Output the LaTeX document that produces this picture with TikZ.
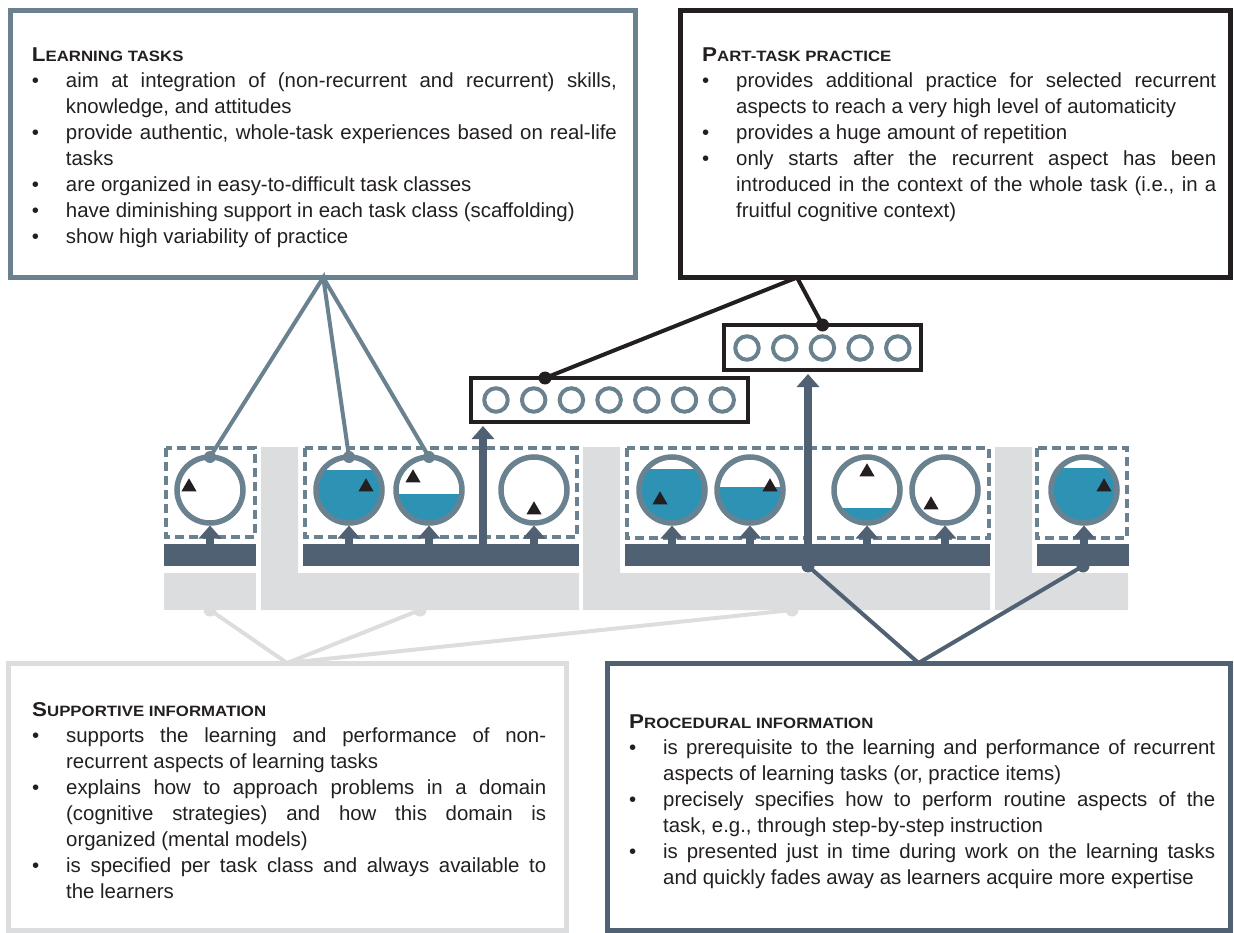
\documentclass[tikz,border=0pt]{standalone}
\usepackage{fontspec}
\setmainfont{Liberation Sans}
\newfontfamily\headfont[FakeStretch=1.12]{Liberation Sans}
\usepackage{tikz}
\usetikzlibrary{positioning, arrows.meta, shapes.geometric}

\definecolor{steel}{RGB}{106,130,144}
\definecolor{slate}{RGB}{79,97,115}
\definecolor{lake}{RGB}{45,146,180}
\definecolor{pale}{RGB}{220,221,223}
\definecolor{ink}{RGB}{35,31,32}

\newcommand{\boxtitle}[2]{\noindent{\headfont\bfseries\fontsize{20}{20}\selectfont #1\fontsize{15}{20}\selectfont #2}\par\vspace{0pt}}
\newcommand{\bitem}{\par\hangindent=34pt\hangafter=1\noindent\makebox[34pt][l]{\textbullet}}

\tikzset{
infobox/.style={draw=#1, line width=5pt, minimum height=267pt, inner sep=0pt, outer sep=0pt}, % the four text boxes
textblock/.style={anchor=north west, inner sep=0pt, align=justify, text=ink, font=\fontsize{20.4}{26}\selectfont, execute at begin node={\hyphenpenalty=10000}}, % bullet lists
tank/.style={circle, draw=steel, line width=5.5pt, minimum size=66pt, inner sep=0pt, outer sep=0pt, fill=white}, % one learning task
waterline/.style={path picture={\fill[lake] ([yshift=-#1pt]path picture bounding box.north west) rectangle (path picture bounding box.south east);}}, % amount of support
cue/.style={regular polygon, regular polygon sides=3, fill=ink, minimum size=17.5pt, inner sep=0pt},
drill/.style={circle, draw=steel, line width=4pt, minimum size=23.5pt, inner sep=0pt}, % practice item
itembox/.style={draw=ink, line width=4pt, inner sep=0pt, outer sep=0pt},
taskbar/.style={fill=slate, minimum height=22pt, inner sep=0pt, outer sep=0pt},
classbox/.style={draw=steel, line width=4.5pt, dash pattern=on 9pt off 5pt},
feed/.style={draw=slate, line width=8pt, -{Triangle[width=22pt,length=13pt]}},
tie/.style={draw=#1, line width=4pt},
}

\begin{document}
\begin{tikzpicture}[x=1pt, y=-1pt, node distance=37.7pt]
\useasboundingbox (0,0) rectangle (1234,933);

% light backing of the task classes
\fill[pale] (164,573) rectangle (256,610);
\fill[pale] (261,447) -- (298,447) -- (298,573) -- (579,573) -- (579,610) -- (261,610) -- cycle;
\fill[pale] (583,447) -- (620,447) -- (620,573) -- (990,573) -- (990,610) -- (583,610) -- cycle;
\fill[pale] (995,447) -- (1032,447) -- (1032,573) -- (1128,573) -- (1128,610) -- (995,610) -- cycle;

% the four boxes
\node[infobox=steel, minimum width=625pt] (ltbox) at (323.25,144) {};
\node[infobox=ink, minimum width=550pt] (ptbox) at (955,144) {};
\node[infobox=pale, minimum width=558pt] (sibox) at (287,796.5) {};
\node[infobox=slate, minimum width=623pt] (pibox) at (918.5,796.5) {};

\coordinate (si1) at (210,610);
\coordinate (si2) at (420,610);
\coordinate (si3) at (792,610);
\draw[tie=pale] (si1) -- (sibox.north) -- (si2) (sibox.north) -- (si3);
\foreach \p in {si1,si2,si3} \fill[pale] (\p) circle (6.5pt);

% bars with the task classes
\node[taskbar, minimum width=92pt] (bar1) at (210,555) {};
\node[taskbar, minimum width=276pt] (bar2) at (441,555) {};
\node[taskbar, minimum width=365pt] (bar3) at (807.5,555) {};
\node[taskbar, minimum width=92pt] (bar4) at (1083,555) {};

\draw[classbox] (166,448) rectangle (255,537);
\draw[classbox] (305,448) rectangle (577,537);
\draw[classbox] (627,448) rectangle (989,538);
\draw[classbox] (1037,448) rectangle (1127,538);

\node[tank] (task1) at (210,490) {};
\node[tank, waterline=13] (task2) at (349,490) {};
\node[tank, waterline=37] (task3) at (429,490) {};
\node[tank] (task4) at (534,490) {};
\node[tank, waterline=12] (task5) at (672,490) {};
\node[tank, waterline=30] (task6) at (750,490) {};
\node[tank, waterline=51] (task7) at (867,490) {};
\node[tank] (task8) at (945,490) {};
\node[tank, waterline=11] (task9) at (1084,490) {};

\node[cue] (cue1) at (189,487) {};
\node[cue] (cue2) at (366,487) {};
\node[cue] (cue3) at (413,478) {};
\node[cue] (cue4) at (534,510) {};
\node[cue] (cue5) at (660,500) {};
\node[cue] (cue6) at (770,487) {};
\node[cue] (cue7) at (867,472) {};
\node[cue] (cue8) at (931,505) {};
\node[cue] (cue9) at (1104,487) {};

\draw[feed, shorten >=2.5pt] (bar1.north -| task1) -- (task1);
\draw[feed, shorten >=2.5pt] (bar2.north -| task2) -- (task2);
\draw[feed, shorten >=2.5pt] (bar2.north -| task3) -- (task3);
\draw[feed, shorten >=2.5pt] (bar2.north -| task4) -- (task4);
\draw[feed, shorten >=2.5pt] (bar3.north -| task5) -- (task5);
\draw[feed, shorten >=2.5pt] (bar3.north -| task6) -- (task6);
\draw[feed, shorten >=2.5pt] (bar3.north -| task7) -- (task7);
\draw[feed, shorten >=2.5pt] (bar3.north -| task8) -- (task8);
\draw[feed, shorten >=2.5pt] (bar4.north -| task9) -- (task9);

% part-task practice items
\node[itembox, minimum width=277pt, minimum height=44pt] (seven) at (609.5,400) {};
\node[drill] (r1) at (496,400) {};
\node[drill, right of=r1] (r2) {};
\node[drill, right of=r2] (r3) {};
\node[drill, right of=r3] (r4) {};
\node[drill, right of=r4] (r5) {};
\node[drill, right of=r5] (r6) {};
\node[drill, right of=r6] (r7) {};

\node[itembox, minimum width=197pt, minimum height=45pt] (five) at (822.5,347.5) {};
\node[drill] (p1) at (747,348) {};
\node[drill, right of=p1] (p2) {};
\node[drill, right of=p2] (p3) {};
\node[drill, right of=p3] (p4) {};
\node[drill, right of=p4] (p5) {};

\coordinate (rise1) at (483,544);
\coordinate (rise2) at (808,566);
\draw[feed, shorten >=4pt] (rise1) -- (rise1 |- seven.south);
\draw[feed, shorten >=4pt] (rise2) -- (rise2 |- five.south);

% connectors
\draw[tie=steel] (task1.north) -- (ltbox.south) -- (task2.north) (ltbox.south) -- (task3.north);
\foreach \t in {task1,task2,task3} \fill[steel] (\t.north) circle (6pt);

\coordinate (ptfoot) at (797,277.5);
\coordinate (sevdot) at (545,378);
\draw[tie=ink] (sevdot) -- (ptfoot) -- (five.north);
\fill[ink] (sevdot) circle (6.5pt) (five.north) circle (6.5pt);

\draw[tie=slate] (rise2) -- (pibox.north) -- (bar4.south);
\fill[slate] (rise2) circle (6.5pt) (bar4.south) circle (6.5pt);

% texts
\node[textblock, text width=585pt, below right=37.5pt and 21pt of ltbox.north west] (lttext) {\boxtitle{L}{EARNING TASKS}
\bitem aim at integration of (non-recurrent and recurrent) skills,\linebreak knowledge, and attitudes
\bitem provide authentic, whole-task experiences based on real-life\linebreak tasks
\bitem are organized in easy-to-difficult task classes
\bitem have diminishing support in each task class (scaffolding)
\bitem show high variability of practice\par};

\node[textblock, text width=514pt, below right=37.5pt and 22pt of ptbox.north west] (pttext) {\boxtitle{P}{ART-TASK PRACTICE}
\bitem provides additional practice for selected recurrent\linebreak aspects to reach a very high level of automaticity
\bitem provides a huge amount of repetition
\bitem only starts after the recurrent aspect has been\linebreak introduced in the context of the whole task (i.e., in a\linebreak fruitful cognitive context)\par};

\node[textblock, text width=514pt, below right=39.5pt and 24pt of sibox.north west] (sitext) {\boxtitle{S}{UPPORTIVE INFORMATION}
\bitem supports the learning and performance of non-\linebreak recurrent aspects of learning tasks
\bitem explains how to approach problems in a domain\linebreak (cognitive strategies) and how this domain is\linebreak organized (mental models)
\bitem is specified per task class and always available to\linebreak the learners\par};

\node[textblock, text width=586pt, below right=51.5pt and 22pt of pibox.north west] (pitext) {\boxtitle{P}{ROCEDURAL INFORMATION}
\bitem is prerequisite to the learning and performance of recurrent\linebreak aspects of learning tasks (or, practice items)
\bitem precisely specifies how to perform routine aspects of the\linebreak task, e.g., through step-by-step instruction
\bitem is presented just in time during work on the learning tasks\linebreak and quickly fades away as learners acquire more expertise\par};

\end{tikzpicture}
\end{document}
